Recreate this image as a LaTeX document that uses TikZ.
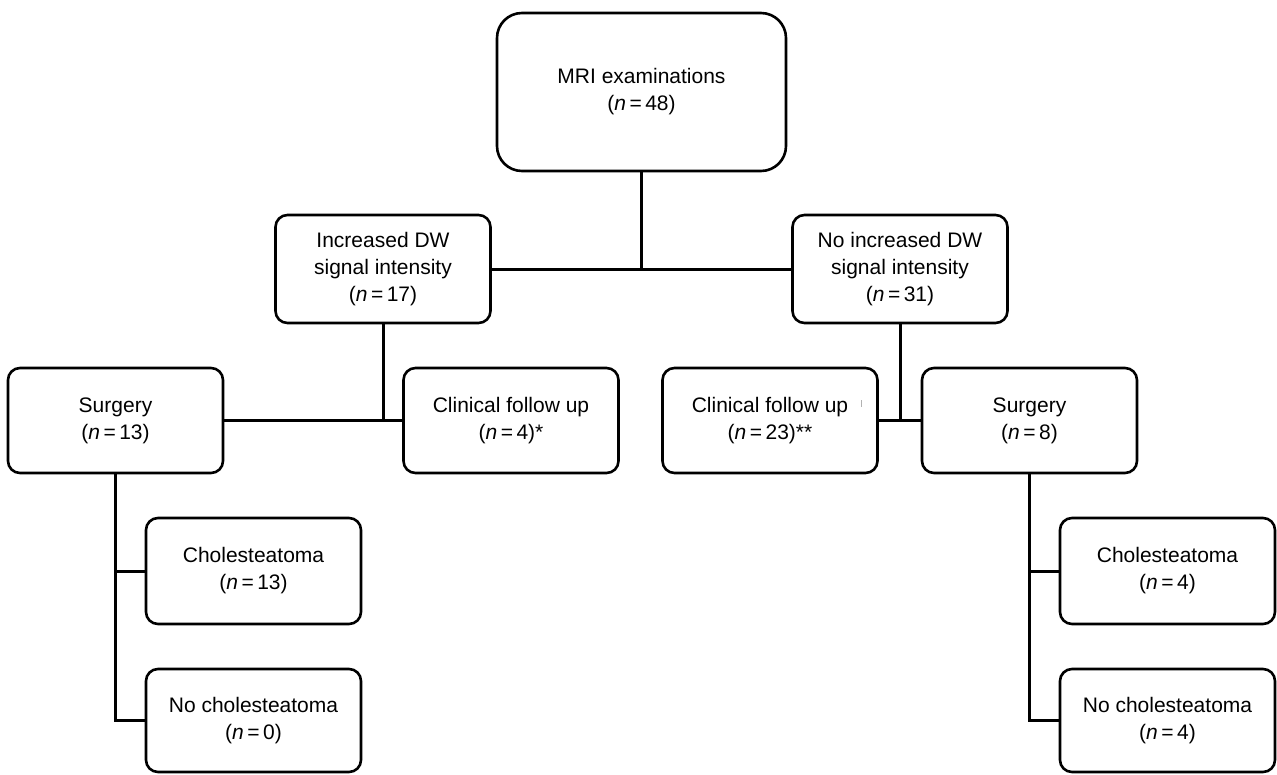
\documentclass[tikz,border=0pt]{standalone}
\usepackage{fontspec}
\setmainfont{Liberation Sans}
\newcommand\Nval[1]{(\textit{n}\,=\,#1)}
\begin{document}
\begin{tikzpicture}[x=1pt,y=-1pt,
  box/.style={draw, line width=2.6pt, rounded corners=12pt, align=center, inner sep=0pt,
    font=\fontsize{21}{27}\selectfont, minimum width=215pt, minimum height=106pt},
  link/.style={line width=3pt}]
\useasboundingbox (0,0) rectangle (1277,774);
\node[box, minimum width=289pt, minimum height=158pt, rounded corners=25pt] (mri) at (641.5,92) {MRI examinations\\\Nval{48}};
\node[box, minimum height=108pt] (inc) at (383,269) {Increased DW\\signal intensity\\\Nval{17}};
\node[box, minimum height=108pt] (noinc) at (900,269) {No increased DW\\signal intensity\\\Nval{31}};
\node[box, minimum height=105pt] (surgL) at (115.5,420.5) {Surgery\\\Nval{13}};
\node[box, minimum height=105pt] (clinL) at (511,420.5) {Clinical follow up\\\Nval{4}*};
\node[box, minimum height=105pt] (clinR) at (770,420.5) {Clinical follow up\\\Nval{23}**};
\node[box, minimum height=105pt] (surgR) at (1029.5,420.5) {Surgery\\\Nval{8}};
\node[box] (cholL) at (253.5,571) {Cholesteatoma\\\Nval{13}};
\node[box, minimum height=103pt] (nocholL) at (253.5,720.5) {No cholesteatoma\\\Nval{0}};
\node[box] (cholR) at (1167.5,571) {Cholesteatoma\\\Nval{4}};
\node[box, minimum height=103pt] (nocholR) at (1167.5,720.5) {No cholesteatoma\\\Nval{4}};
% connectors
\draw[link] (inc.east) -- (noinc.west);
\draw[link] (mri.south) -- (mri.south |- inc.east);
\draw[link] (surgL.east) -- (clinL.west);
\draw[link] (inc.south) -- (inc.south |- surgL.east);
\draw[link] (clinR.east) -- (surgR.west);
\draw[link] (noinc.south) -- (noinc.south |- surgR.west);
\draw[link] (surgL.south) |- (nocholL.west);
\draw[link] (surgL.south |- cholL.west) -- (cholL.west);
\draw[link] (surgR.south) |- (nocholR.west);
\draw[link] (surgR.south |- cholR.west) -- (cholR.west);
% stray tick mark
\coordinate (tickA) at (861,400);
\coordinate (tickB) at (861,407);
\draw[gray!60, line width=0.8pt] (tickA) -- (tickB);
\end{tikzpicture}
\end{document}
